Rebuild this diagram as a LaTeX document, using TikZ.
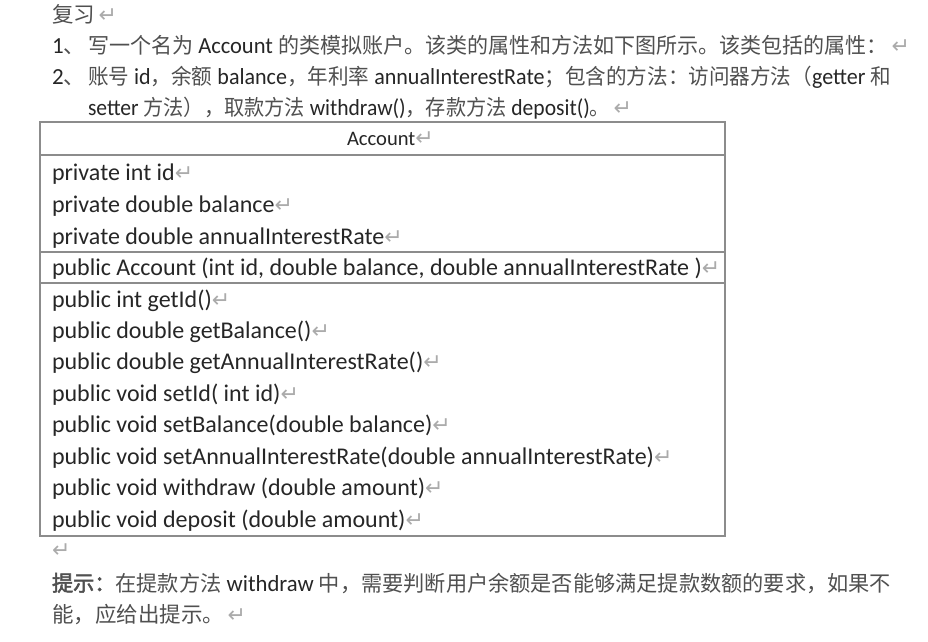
\documentclass[tikz,border=0pt]{standalone}
\usepackage{fontspec}
\usepackage{graphicx}
\setmainfont{Carlito}
\newfontfamily\cjk{Noto Sans CJK SC}
\newfontfamily\cjkb[FakeBold=2.5]{Noto Sans CJK SC}
\newfontfamily\symf{DejaVu Sans}
\definecolor{zhc}{HTML}{505050}
\definecolor{enc}{HTML}{262626}
\definecolor{pmc}{HTML}{ABABAB}
\definecolor{rulec}{HTML}{8C8C8C}
\newcommand{\zh}[1]{{\cjk\fontsize{21.5}{26}\selectfont\color{zhc}#1}}
\newcommand{\zhb}[1]{{\cjkb\fontsize{21.5}{26}\selectfont\color{zhc}#1}}
\newcommand{\pmark}{{\symf\fontsize{22}{22}\selectfont\color{pmc}\,↵}}
\newcommand{\tpmark}{{\symf\fontsize{22}{22}\selectfont\color{pmc}↵}}
\newcommand{\fitw}[2]{\resizebox{#1pt}{\height}{#2}}
\tikzset{
  line/.style={anchor=base west, inner sep=0pt, outer sep=0pt, text=enc, font=\fontsize{23}{27}\selectfont},
  row/.style={anchor=base west, inner sep=0pt, outer sep=0pt, text=enc, font=\fontsize{24}{28}\selectfont},
  rule/.style={draw=rulec, line width=1.3pt}
}
\begin{document}
\begin{tikzpicture}[x=1pt,y=-1pt]
\fill[white] (0,0) rectangle (928,641);
\useasboundingbox (0,0) rectangle (928,641);
% heading and task text
\node[line] (h) at (52,22) {\zh{复习}\pmark};
\node[line] (n1) at (52,53) {1\zh{、}};
\node[line] (l1) at (88,53) {\fitw{800}{\zh{写一个名为}~Account~\zh{的类模拟账户。该类的属性和方法如下图所示。该类包括的属性：}}\pmark};
\node[line] (n2) at (52,84) {2\zh{、}};
\node[line] (l2) at (88,84) {\fitw{803}{\zh{账号}~id\zh{，余额}~balance\zh{，年利率}~annualInterestRate\zh{；包含的方法：访问器方法（}getter~\zh{和}}};
\node[line] (l3) at (88,115) {\fitw{522}{setter~\zh{方法），取款方法}~withdraw()\zh{，存款方法}~deposit()\zh{。}}\pmark};
% class table
\coordinate (tl) at (40,122);
\coordinate (br) at (725,536);
\draw[rule] (tl) rectangle (br);
\coordinate (s1l) at (40,155); \coordinate (s1r) at (725,155);
\coordinate (s2l) at (40,252); \coordinate (s2r) at (725,252);
\coordinate (s3l) at (40,283); \coordinate (s3r) at (725,283);
\draw[rule] (s1l) -- (s1r);
\draw[rule] (s2l) -- (s2r);
\draw[rule] (s3l) -- (s3r);
\node[row, font=\fontsize{20.6}{24}\selectfont] (hdr) at (347,145) {Account\tpmark};
\node[row] (a1) at (52,180) {private int id\tpmark};
\node[row] (a2) at (52,212) {private double balance\tpmark};
\node[row] (a3) at (52,244) {private double annualInterestRate\tpmark};
\node[row] (c1) at (52,275) {public Account (int id, double balance, double annualInterestRate )\tpmark};
\node[row] (m1) at (52,307) {public int getId()\tpmark};
\node[row] (m2) at (52,338.4) {public double getBalance()\tpmark};
\node[row] (m3) at (52,369.9) {public double getAnnualInterestRate()\tpmark};
\node[row] (m4) at (52,401.3) {public void setId( int id)\tpmark};
\node[row] (m5) at (52,432.7) {public void setBalance(double balance)\tpmark};
\node[row] (m6) at (52,464.1) {public void setAnnualInterestRate(double annualInterestRate)\tpmark};
\node[row] (m7) at (52,495.6) {public void withdraw (double amount)\tpmark};
\node[row] (m8) at (52,527) {public void deposit (double amount)\tpmark};
% hint
\node[line] (e1) at (52,557) {\tpmark};
\node[line] (t1) at (52,591) {\fitw{839}{\zhb{提示：}\zh{在提款方法}~withdraw~\zh{中，需要判断用户余额是否能够满足提款数额的要求，如果不}}};
\node[line] (t2) at (52,622) {\fitw{172}{\zh{能，应给出提示。}}\pmark};
\end{tikzpicture}
\end{document}
